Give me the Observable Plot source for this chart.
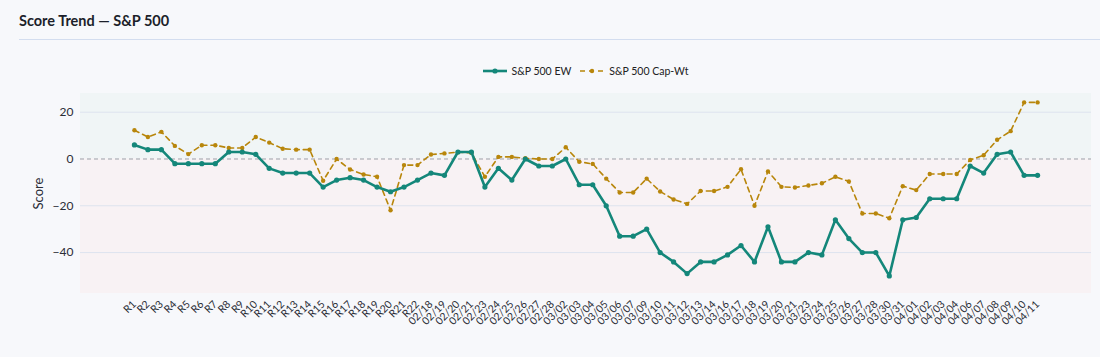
<!DOCTYPE html>
<html>
<head>
<meta charset="utf-8">
<script src="https://cdn.jsdelivr.net/npm/d3@7"></script>
<script src="https://cdn.jsdelivr.net/npm/@observablehq/plot@0.6"></script>
<style>
  html, body { margin: 0; padding: 0; background: #f7f8fb; width: 1100px; height: 357px; overflow: hidden; font-family: Lato, sans-serif; }
  #title { position: absolute; left: 19px; top: 12px; font-size: 14.5px; font-weight: 700; color: #1c1f2a; }
  #rule { position: absolute; left: 19px; right: 0; top: 39px; height: 0; border-top: 1.5px solid #d3ddef; }
  #legend { position: absolute; left: 80px; width: 1011px; top: 65px; display: flex; justify-content: center; gap: 9px; font-size: 10.5px; color: #222; }
  .item { display: flex; align-items: center; gap: 5px; }
  #chart { position: absolute; left: 0; top: 85px; }
</style>
</head>
<body>
<div id="title">Score Trend — S&amp;P 500</div>
<div id="rule"></div>
<div id="legend"></div>
<div id="chart"></div>
<script>
const labels = ["R1","R2","R3","R4","R5","R6","R7","R8","R9","R10","R11","R12","R13","R14","R15","R16","R17","R18","R19","R20","R21","R22",
  "02/18","02/19","02/20","02/21","02/23","02/24","02/25","02/26","02/27","02/28",
  "03/02","03/03","03/04","03/05","03/06","03/07","03/09","03/10","03/11","03/12","03/13","03/14","03/16","03/17","03/18","03/19","03/20","03/21","03/23","03/24","03/25","03/26","03/27","03/28","03/30","03/31",
  "04/01","04/02","04/03","04/04","04/06","04/07","04/08","04/09","04/10","04/11"];
const ewValues = [6,4,4,-2,-2,-2,-2,3,3,2,-4,-6,-6,-6,-12,-9,-8,-9,-12,-14,-12,-9,
  -6,-7,3,3,-12,-4,-9,0,-3,-3,
  0,-11,-11,-20,-33,-33,-30,-40,-44,-49,-44,-44,-41,-37,-44,-29,-44,-44,-40,-41,-26,-34,-40,-40,-50,-26,
  -25,-17,-17,-17,-3,-6,2,3,-7,-7];
const capValues = [12.3,9.4,11.6,5.6,2.1,5.9,5.9,4.7,4.7,9.4,7,4.4,4,4,-9.3,0,-4.5,-6.6,-7.6,-21.9,-2.6,-2.6,
  1.9,2.4,2.9,2.6,-7.6,0.9,0.9,0.3,0,0,
  5,-1.2,-2.1,-8.4,-14.3,-14.3,-8.4,-13.9,-17.3,-19.2,-13.7,-13.7,-11.9,-4.4,-20,-5.3,-11.9,-12.2,-11.3,-10.4,-7.6,-9.6,-23.3,-23.3,-25.3,-11.6,
  -13.3,-6.4,-6.4,-6.4,-0.4,1.6,8.2,11.9,24.2,24.2];
const yTicks = [20, 0, -20, -40];
const seriesNames = ["S&P 500 EW", "S&P 500 Cap-Wt"];
const yDomain = [-57.5, 28];

const EW = "#14877a", CAP = "#b8860b";

const ew = labels.map((d, i) => ({label: d, value: ewValues[i]}));
const cap = labels.map((d, i) => ({label: d, value: capValues[i]}));
const bands = [{y1: 0, y2: yDomain[1], fill: "#f0f5f6"}, {y1: yDomain[0], y2: 0, fill: "#f8f2f4"}];

const chart = Plot.plot({
  width: 1100,
  height: 272,
  marginLeft: 80,
  marginRight: 9,
  marginTop: 8,
  marginBottom: 64,
  style: {background: "transparent", fontFamily: "Lato, sans-serif", color: "#2a2d36"},
  x: {type: "point", domain: labels, padding: 4},
  y: {domain: yDomain},
  marks: [
    Plot.rect(bands, {y1: "y1", y2: "y2", fill: "fill"}),
    Plot.gridY(yTicks.filter(t => t !== 0), {stroke: "#dde3ee", strokeOpacity: 1}),
    Plot.ruleY([0], {stroke: "#9aa0a8", strokeDasharray: "4,3"}),
    Plot.axisX({tickRotate: -45, tickSize: 0, tickPadding: 9, fontSize: 10.5, label: null}),
    Plot.axisY({ticks: yTicks, tickSize: 0, tickPadding: 7, fontSize: 12, label: null}),
    Plot.axisY({ticks: [], tickSize: 0, fontSize: 13, label: "Score", labelAnchor: "center", labelArrow: "none", labelOffset: 47}),
    Plot.line(cap, {x: "label", y: "value", stroke: CAP, strokeWidth: 1.6, strokeDasharray: "5,4"}),
    Plot.dot(cap, {x: "label", y: "value", fill: CAP, r: 2.2}),
    Plot.line(ew, {x: "label", y: "value", stroke: EW, strokeWidth: 2.6}),
    Plot.dot(ew, {x: "label", y: "value", fill: EW, r: 2.6})
  ]
});
document.getElementById("chart").appendChild(chart);

const legend = document.getElementById("legend");
const styles = [{color: EW, dash: null, w: 2.6, r: 2.6}, {color: CAP, dash: "5,4", w: 1.6, r: 2.2}];
seriesNames.forEach((name, i) => {
  const s = styles[i];
  const item = document.createElement("div");
  item.className = "item";
  item.innerHTML = `<svg width="24" height="10"><line x1="0" x2="24" y1="5" y2="5" stroke="${s.color}" stroke-width="${s.w}" ${s.dash ? `stroke-dasharray="${s.dash}"` : ""}/><circle cx="12" cy="5" r="${s.r}" fill="${s.color}"/></svg><span>${name}</span>`;
  legend.appendChild(item);
});
</script>
</body>
</html>
